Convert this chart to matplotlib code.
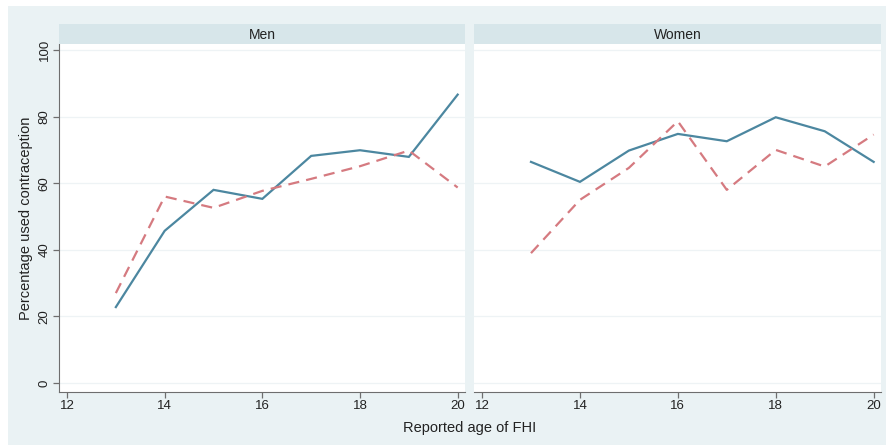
import matplotlib
matplotlib.use("Agg")
import matplotlib.pyplot as plt
from matplotlib.patches import Rectangle

plt.rcParams['font.family'] = ['Liberation Sans', 'DejaVu Sans']

# data
ages = [13, 14, 15, 16, 17, 18, 19, 20]
men_solid = [22.8, 45.7, 58.0, 55.3, 68.2, 69.9, 67.9, 86.6]
men_dash = [27.0, 56.0, 52.6, 57.7, 61.3, 65.1, 69.8, 58.7]
women_solid = [66.4, 60.4, 69.8, 74.8, 72.6, 79.8, 75.6, 66.4]
women_dash = [39.0, 55.0, 64.6, 78.6, 58.0, 70.0, 65.0, 74.6]
panels = ["Men", "Women"]
xticks = [12, 14, 16, 18, 20]
yticks = [0, 20, 40, 60, 80, 100]

W, H = 886, 445
bg = "#eaf2f4"
strip_col = "#d7e6ea"
blue = "#4c87a0"
red = "#d57a80"
axcol = "#6e6e6e"

fig = plt.figure(figsize=(W / 100, H / 100), dpi=100)
fig.patch.set_facecolor("white")
fig.patches.append(Rectangle((8 / W, 0), 1 - 8 / W, 1 - 6 / H,
                             transform=fig.transFigure, facecolor=bg,
                             edgecolor="none", zorder=-10))

def px(x0, y0, x1, y1):
    return [x0 / W, 1 - y1 / H, (x1 - x0) / W, (y1 - y0) / H]

boxes = [(59, 44, 465, 392), (474, 44, 881, 392)]
series = [(men_solid, men_dash), (women_solid, women_dash)]

for i, (box, (s, d), name) in enumerate(zip(boxes, series, panels)):
    ax = fig.add_axes(px(*box))
    ax.set_facecolor("white")
    ax.plot(ages, s, color=blue, lw=1.6, solid_joinstyle="miter")
    ax.plot(ages, d, color=red, lw=1.6, ls=(0, (5, 3.2)))
    ax.set_xlim(11.836, 20.15)
    ax.set_ylim(-2.7, 101.8)
    ax.set_xticks(xticks)
    ax.set_yticks(yticks)
    ax.grid(axis="y", color="#eef3f5", lw=0.9)
    ax.set_axisbelow(True)
    for sp in ["top", "right"]:
        ax.spines[sp].set_visible(False)
    ax.spines["bottom"].set_color(axcol)
    ax.spines["left"].set_color(axcol)
    ax.tick_params(axis="both", colors=axcol, length=4, width=0.9,
                   labelsize=9.5, labelcolor="#222222", pad=2)
    if i == 0:
        ax.set_yticklabels([str(v) for v in yticks], rotation=90, va="center")
        ax.set_ylabel("Percentage used contraception", fontsize=10.5,
                      color="#222222", labelpad=4)
    else:
        ax.spines["left"].set_visible(False)
        ax.tick_params(axis="y", left=False, labelleft=False)
    # strip header
    sx = fig.add_axes(px(box[0], 24, box[2], 44))
    sx.set_facecolor(strip_col)
    sx.set_xticks([])
    sx.set_yticks([])
    for sp in sx.spines.values():
        sp.set_visible(False)
    sx.text(0.5, 0.45, name, ha="center", va="center", fontsize=10,
            color="#222222", transform=sx.transAxes)

fig.text(470 / W, 1 - 428 / H, "Reported age of FHI", ha="center",
         va="center", fontsize=10.5, color="#222222")

fig.savefig("out.png", dpi=100, facecolor=fig.get_facecolor())
